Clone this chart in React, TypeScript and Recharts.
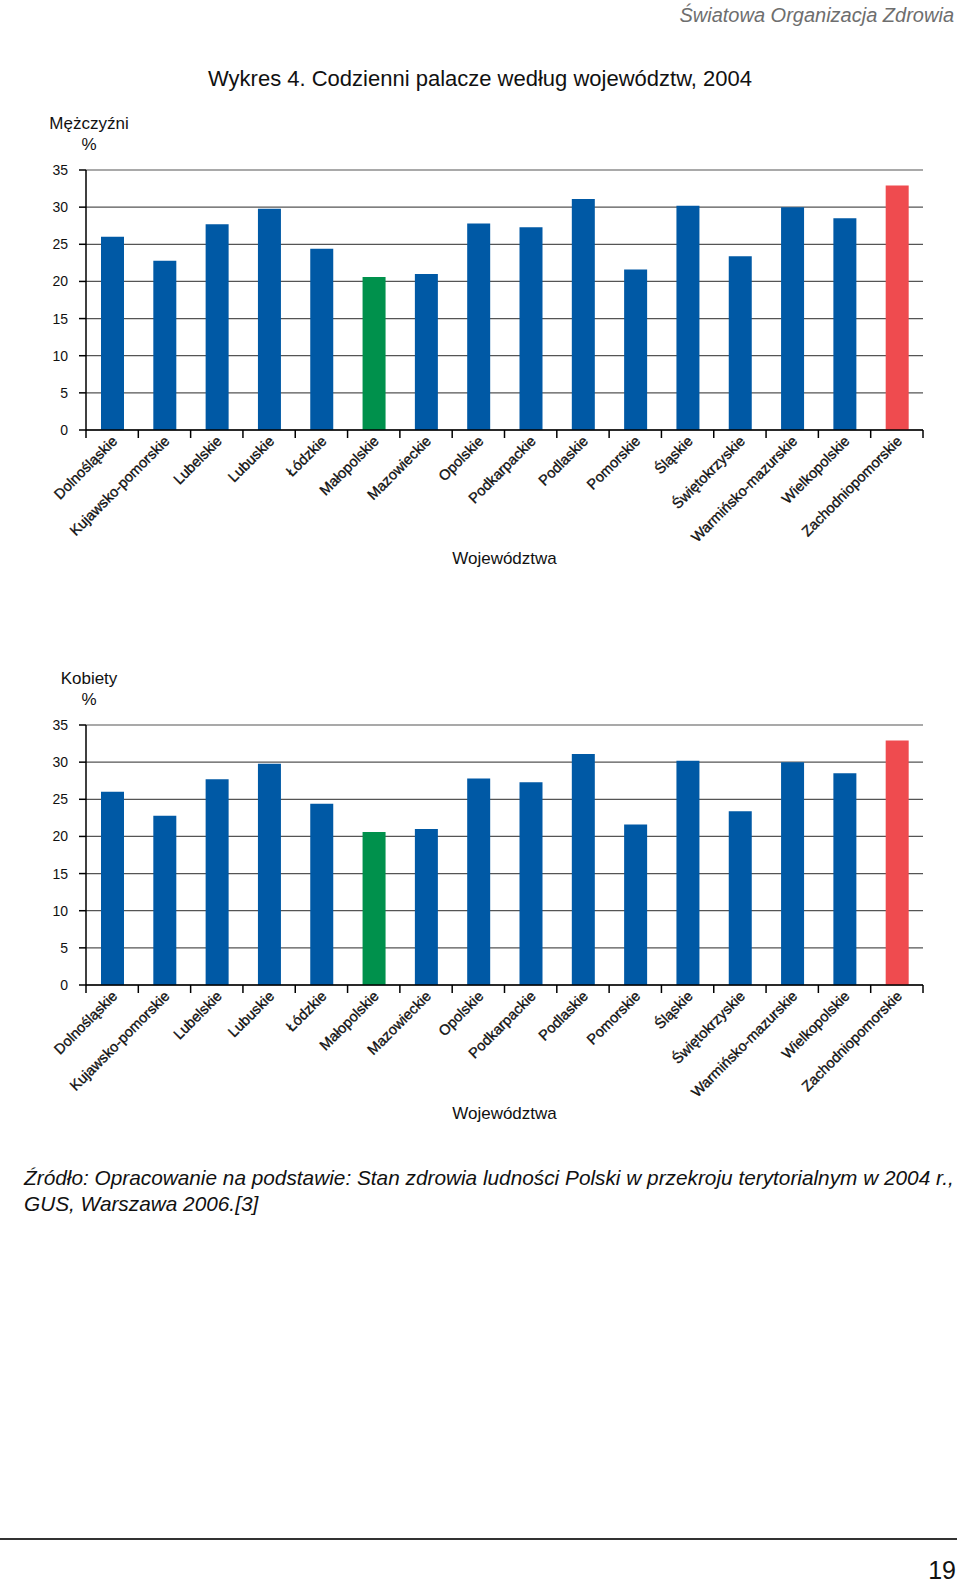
import React from 'react'
import { BarChart, Bar, Cell, XAxis, YAxis, CartesianGrid } from 'recharts'

const regions = [
  'Dolnośląskie', 'Kujawsko-pomorskie', 'Lubelskie', 'Lubuskie', 'Łódzkie',
  'Małopolskie', 'Mazowieckie', 'Opolskie', 'Podkarpackie', 'Podlaskie',
  'Pomorskie', 'Śląskie', 'Świętokrzyskie', 'Warmińsko-mazurskie',
  'Wielkopolskie', 'Zachodniopomorskie',
]

// % codziennych palaczy
const menValues = [26.0, 22.8, 27.7, 29.8, 24.4, 20.6, 21.0, 27.8, 27.3, 31.1, 21.6, 30.2, 23.4, 30.0, 28.5, 32.9]
const womenValues = [26.0, 22.8, 27.7, 29.8, 24.4, 20.6, 21.0, 27.8, 27.3, 31.1, 21.6, 30.2, 23.4, 30.0, 28.5, 32.9]

const yTicks = [0, 5, 10, 15, 20, 25, 30, 35]

const lowestRegion = 'Małopolskie'
const highestRegion = 'Zachodniopomorskie'

const BLUE = '#0059a5'
const GREEN = '#00914c'
const RED = '#ef4b4f'
const FONT = '"Liberation Sans", Arial, Helvetica, sans-serif'

const barColor = (name: string) =>
  name === lowestRegion ? GREEN : name === highestRegion ? RED : BLUE

// etykieta pod kątem + kreski na granicach kategorii
const RegionTick = ({ x, y, payload, index, visibleTicksCount, width }: any) => {
  const half = payload.offset ?? width / visibleTicksCount / 2
  const tx = x + 6
  const ty = y + 12
  return (
    <g>
      <line x1={x - half} x2={x - half} y1={y} y2={y + 8} stroke="#000" strokeWidth={1.5} />
      {index === visibleTicksCount - 1 && (
        <line x1={x + half} x2={x + half} y1={y} y2={y + 8} stroke="#000" strokeWidth={1.5} />
      )}
      <text
        x={tx}
        y={ty}
        transform={`rotate(-45 ${tx} ${ty})`}
        textAnchor="end"
        fontSize={14.5}
        fontFamily={FONT}
        fill="#111"
        stroke="#111"
        strokeWidth={0.35}
      >
        {payload.value}
      </text>
    </g>
  )
}

const RegionChart = ({ values, top, title }: { values: number[]; top: number; title: string }) => {
  const data = regions.map((name, i) => ({ name, value: values[i] }))
  return (
    <>
      <div
        style={{
          position: 'absolute', left: 39, top: top - 57, width: 100,
          textAlign: 'center', fontSize: 17, lineHeight: '21px',
        }}
      >
        {title}
        <br />%
      </div>
      <div style={{ position: 'absolute', left: 0, top: top - 20 }}>
        <BarChart width={960} height={420} data={data} margin={{ top: 20, right: 37, left: 0, bottom: 10 }}>
          <CartesianGrid vertical={false} stroke="#555" strokeWidth={1.2} />
          <XAxis
            dataKey="name"
            interval={0}
            tick={<RegionTick />}
            tickLine={false}
            tickSize={0}
            tickMargin={0}
            axisLine={{ stroke: '#000', strokeWidth: 1.5 }}
            height={130}
          />
          <YAxis
            width={86}
            domain={[0, 35]}
            ticks={yTicks}
            interval={0}
            tickSize={7}
            tickMargin={11}
            axisLine={{ stroke: '#000', strokeWidth: 1.5 }}
            tickLine={{ stroke: '#000', strokeWidth: 1.5 }}
            tick={{ fill: '#111', fontSize: 14, fontFamily: FONT }}
          />
          <Bar dataKey="value" barSize={23} isAnimationActive={false}>
            {data.map((d) => (
              <Cell key={d.name} fill={barColor(d.name)} />
            ))}
          </Bar>
        </BarChart>
      </div>
      <div
        style={{
          position: 'absolute', left: 86, top: top + 380, width: 837,
          textAlign: 'center', fontSize: 17, lineHeight: '17px',
        }}
      >
        Województwa
      </div>
    </>
  )
}

export default function App() {
  return (
    <div
      style={{
        position: 'absolute', left: 0, top: 0, width: 960, height: 1586,
        overflow: 'hidden', background: '#fff', color: '#111', fontFamily: FONT,
      }}
    >
      <div
        style={{
          position: 'absolute', right: 6, top: 5, fontSize: 20, lineHeight: '20px',
          fontStyle: 'italic', color: '#6e6e6e',
        }}
      >
        Światowa Organizacja Zdrowia
      </div>
      <div
        style={{
          position: 'absolute', left: 0, top: 68, width: 960, textAlign: 'center',
          fontSize: 22, lineHeight: '22px',
        }}
      >
        Wykres 4. Codzienni palacze według województw, 2004
      </div>

      <RegionChart values={menValues} top={170} title="Mężczyźni" />
      <RegionChart values={womenValues} top={725} title="Kobiety" />

      <div
        style={{
          position: 'absolute', left: 24, top: 1165, fontSize: 20.8,
          lineHeight: '26px', fontStyle: 'italic', whiteSpace: 'nowrap',
        }}
      >
        Źródło: Opracowanie na podstawie: Stan zdrowia ludności Polski w przekroju terytorialnym w 2004 r.,
        <br />
        GUS, Warszawa 2006.[3]
      </div>

      <div style={{ position: 'absolute', left: 0, top: 1538, width: 957, height: 2, background: '#333' }} />
      <div
        style={{
          position: 'absolute', right: 4, top: 1556, fontSize: 25, lineHeight: '28px',
        }}
      >
        19
      </div>
    </div>
  )
}
